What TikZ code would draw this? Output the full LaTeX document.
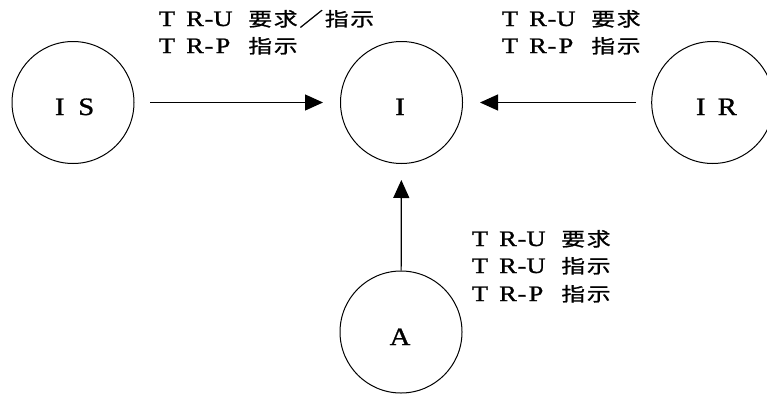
\documentclass[tikz,border=0pt]{standalone}
\usepackage{graphicx}
\usepackage{fontspec}
\newfontfamily\lat{Liberation Serif}[FakeBold=1]
\newfontfamily\jp{Noto Sans CJK JP}[FakeBold=1]
\usetikzlibrary{arrows.meta}
\newcommand\lt[1]{\makebox[14pt]{\scalebox{1.2}[1]{\lat\fontsize{22}{24}\selectfont #1}}}
\newcommand\kj[1]{\makebox[25.5pt]{\scalebox{1.25}[1]{\jp\fontsize{19}{22}\selectfont #1}}}
\newcommand\trl[2]{\lt{T}\hspace{14pt}\lt{R}\lt{-}\lt{#1}\hspace{17.5pt}#2}
\newcommand\lb[1]{\makebox[26.5pt]{\scalebox{1.15}[1]{\lat\fontsize{25}{27}\selectfont #1}}}
\tikzset{
  x=1pt, y=-1pt,
  ent/.style={circle, draw, line width=1pt, minimum size=122pt, inner sep=0pt},
  txt/.style={anchor=base west, inner sep=0pt, outer sep=0pt},
  lbl/.style={anchor=base, inner sep=0pt, outer sep=0pt},
  arr/.style={line width=1.2pt, -{Triangle[length=18pt, width=16pt]}},
}
\begin{document}
\begin{tikzpicture}
\fill[white] (0,0) rectangle (767,394);
\useasboundingbox (0,0) rectangle (767,394);

\node[ent] (IS) at (73,102.5) {};
\node[ent] (I)  at (401.5,102.5) {};
\node[ent] (IR) at (712.7,102.5) {};
\node[ent] (A)  at (401,332) {};

\node[lbl] (ISl) at (73,115) {\lb{I}\lb{S}};
\node[lbl] (Il)  at (400,115) {\lb{I}};
\node[lbl] (IRl) at (714,115) {\lb{I}\lb{R}};
\node[lbl] (Al)  at (400,345) {\lb{A}};

\draw[arr, shorten <=15.5pt, shorten >=17pt] (IS) -- (I);
\draw[arr, shorten <=15pt, shorten >=17pt] (IR) -- (I);
\draw[arr, shorten >=16pt] (A) -- (I);

\node[txt] (tl1) at (160,26) {\trl{U}{\kj{要}\kj{求}\kj{／}\kj{指}\kj{示}}};
\node[txt] (tl2) at (160,53) {\trl{P}{\kj{指}\kj{示}}};
\node[txt] (tr1) at (503,26) {\trl{U}{\kj{要}\kj{求}}};
\node[txt] (tr2) at (503,53) {\trl{P}{\kj{指}\kj{示}}};
\node[txt] (tb1) at (473,246) {\trl{U}{\kj{要}\kj{求}}};
\node[txt] (tb2) at (473,273) {\trl{U}{\kj{指}\kj{示}}};
\node[txt] (tb3) at (473,301) {\trl{P}{\kj{指}\kj{示}}};
\end{tikzpicture}
\end{document}
